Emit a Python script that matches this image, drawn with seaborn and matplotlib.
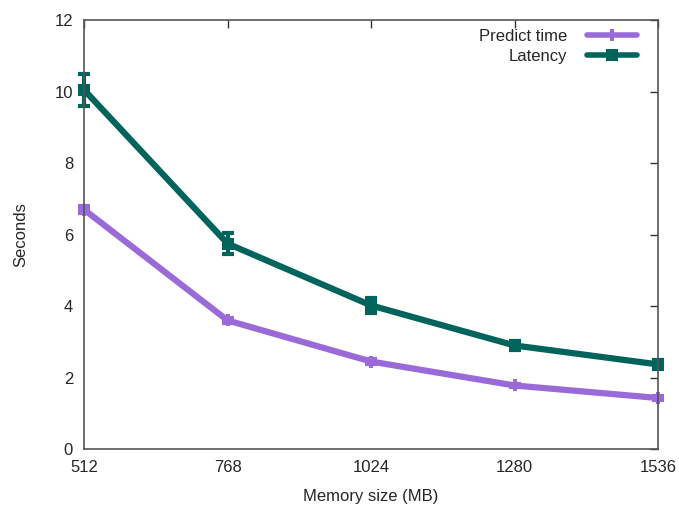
import numpy as np
import pandas as pd
import matplotlib
matplotlib.use("Agg")
import matplotlib.pyplot as plt
import seaborn as sns
from matplotlib.lines import Line2D

# ===== data =====
memory = [512, 768, 1024, 1280, 1536]
predict_time = [6.70, 3.60, 2.45, 1.78, 1.43]
predict_err = [0.10, 0.08, 0.06, 0.05, 0.05]
latency = [10.05, 5.75, 4.02, 2.90, 2.37]
latency_err = [0.45, 0.30, 0.20, 0.12, 0.12]

df = pd.DataFrame({
    "Memory": memory * 2,
    "Seconds": predict_time + latency,
    "err": predict_err + latency_err,
    "series": ["Predict time"] * 5 + ["Latency"] * 5,
})

sns.set_style("white")
plt.rcParams['font.family'] = ['Liberation Sans', 'DejaVu Sans']

fig, ax = plt.subplots(figsize=(6.79, 5.08), dpi=100)

colors = {"Predict time": "#9a6bd8", "Latency": "#00645c"}
markers = {"Predict time": "P", "Latency": "s"}

sns.lineplot(data=df, x="Memory", y="Seconds", hue="series", style="series",
             palette=colors, markers=markers, dashes=False, linewidth=4.5,
             markersize=9, markeredgewidth=0, ax=ax, legend=False)
for ln in ax.lines:
    ln.set_clip_on(False)

for name, g in df.groupby("series", sort=False):
    eb = ax.errorbar(g["Memory"], g["Seconds"], yerr=g["err"], fmt="none",
                     ecolor=colors[name], elinewidth=3, capsize=4, capthick=3)
    for art in eb.lines[1] + eb.lines[2]:
        art.set_clip_on(False)

# legend like gnuplot: text then sample line
handles = [Line2D([], [], color=colors[n], lw=4, marker=markers[n], markersize=9,
                  markeredgewidth=0) for n in ["Predict time", "Latency"]]
leg = ax.legend(handles, ["Predict time", "Latency"], loc="upper right",
                frameon=False, markerfirst=False, fontsize=12, handlelength=3.0,
                handletextpad=1.2, borderaxespad=0.0, labelspacing=0.3,
                bbox_to_anchor=(0.975, 0.995))
for t in leg.get_texts():
    t.set_ha("right")

ax.set_xlim(512, 1536)
ax.set_ylim(0, 12)
ax.set_xticks(memory)
ax.set_yticks([0, 2, 4, 6, 8, 10, 12])
ax.set_xlabel("Memory size (MB)", fontsize=12, labelpad=10)
ax.set_ylabel("Seconds", fontsize=12, labelpad=19)
ax.tick_params(direction="in", length=6, width=1, top=True, right=True,
               labelsize=12, color="#333333", pad=8)
for s in ax.spines.values():
    s.set_color("#555555")
    s.set_linewidth(1.2)

fig.subplots_adjust(left=0.124, right=0.969, bottom=0.116, top=0.96)
fig.savefig("out.png", dpi=100)
